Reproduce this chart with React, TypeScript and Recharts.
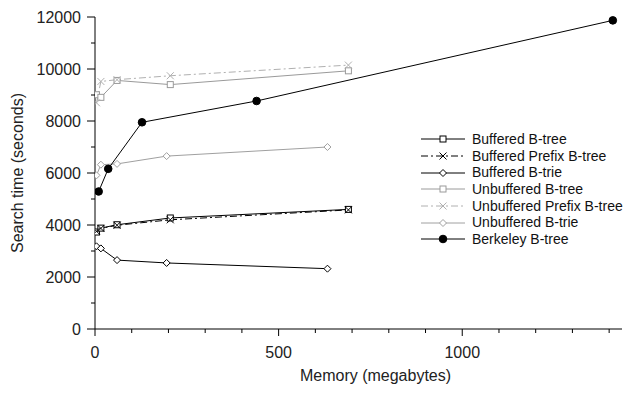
import React from 'react';
import { LineChart, Line, XAxis, YAxis, Legend } from 'recharts';

const FONT = '"Liberation Sans", Arial, Helvetica, sans-serif';

const bufferedBtreeMem = [4, 16, 60, 205, 690];
const bufferedBtreeTime = [3730, 3880, 4010, 4270, 4600];
const bufferedPrefixMem = [4, 16, 60, 205, 690];
const bufferedPrefixTime = [3760, 3870, 3990, 4200, 4580];
const bufferedTrieMem = [4, 16, 60, 195, 633];
const bufferedTrieTime = [3180, 3100, 2650, 2540, 2320];
const unbufferedBtreeMem = [4, 16, 60, 205, 690];
const unbufferedBtreeTime = [9010, 8910, 9560, 9400, 9930];
const unbufferedPrefixMem = [4, 16, 60, 205, 690];
const unbufferedPrefixTime = [8700, 9520, 9590, 9740, 10150];
const unbufferedTrieMem = [4, 16, 60, 195, 633];
const unbufferedTrieTime = [5910, 6320, 6350, 6650, 7000];
const berkeleyMem = [10, 36, 128, 440, 1410];
const berkeleyTime = [5290, 6160, 7950, 8770, 11870];

const xTicks = [0, 100, 200, 300, 400, 500, 600, 700, 800, 900, 1000, 1100, 1200, 1300, 1400];
const yTicks = [0, 1000, 2000, 3000, 4000, 5000, 6000, 7000, 8000, 9000, 10000, 11000, 12000];

const zip = (xs: number[], ys: number[]) => xs.map((x, i) => ({ x, y: ys[i] }));

type Kind = 'square' | 'cross' | 'diamond' | 'circle';
interface Series {
  name: string;
  data: { x: number; y: number }[];
  color: string;
  dash?: string;
  marker: Kind;
}

const series: Series[] = [
  { name: 'Buffered B-tree', data: zip(bufferedBtreeMem, bufferedBtreeTime), color: '#000', marker: 'square' },
  { name: 'Buffered Prefix B-tree', data: zip(bufferedPrefixMem, bufferedPrefixTime), color: '#000', dash: '7 3 2 3', marker: 'cross' },
  { name: 'Buffered B-trie', data: zip(bufferedTrieMem, bufferedTrieTime), color: '#000', marker: 'diamond' },
  { name: 'Unbuffered B-tree', data: zip(unbufferedBtreeMem, unbufferedBtreeTime), color: '#9a9a9a', marker: 'square' },
  { name: 'Unbuffered Prefix B-tree', data: zip(unbufferedPrefixMem, unbufferedPrefixTime), color: '#b0b0b0', dash: '7 3 2 3', marker: 'cross' },
  { name: 'Unbuffered B-trie', data: zip(unbufferedTrieMem, unbufferedTrieTime), color: '#a0a0a0', marker: 'diamond' },
  { name: 'Berkeley B-tree', data: zip(berkeleyMem, berkeleyTime), color: '#000', marker: 'circle' },
];

function Marker({ kind, cx, cy, color }: { kind: Kind; cx: number; cy: number; color: string }) {
  if (kind === 'square')
    return <rect x={cx - 3} y={cy - 3} width={6} height={6} fill="#fff" stroke={color} strokeWidth={1} />;
  if (kind === 'cross')
    return (
      <g stroke={color} strokeWidth={1}>
        <line x1={cx - 3.5} y1={cy - 3.5} x2={cx + 3.5} y2={cy + 3.5} />
        <line x1={cx - 3.5} y1={cy + 3.5} x2={cx + 3.5} y2={cy - 3.5} />
      </g>
    );
  if (kind === 'diamond')
    return (
      <polygon
        points={`${cx},${cy - 3.5} ${cx + 3.5},${cy} ${cx},${cy + 3.5} ${cx - 3.5},${cy}`}
        fill="#fff"
        stroke={color}
        strokeWidth={1}
      />
    );
  return <circle cx={cx} cy={cy} r={3.8} fill={color} stroke={color} />;
}

const XTick = (props: any) => {
  const { x, y, payload } = props;
  const major = payload.value % 500 === 0;
  return (
    <g>
      <line x1={x} y1={y} x2={x} y2={y + (major ? 7 : 4)} stroke="#000" />
      {major && (
        <text x={x} y={y + 29} textAnchor="middle" fontSize={16} fill="#222" fontFamily={FONT}>
          {payload.value}
        </text>
      )}
    </g>
  );
};

const YTick = (props: any) => {
  const { x, y, payload } = props;
  const major = payload.value % 2000 === 0;
  return (
    <g>
      <line x1={x} y1={y} x2={x - (major ? 8 : 4)} y2={y} stroke="#000" />
      {major && (
        <text x={x - 14} y={y + 5.6} textAnchor="end" fontSize={16} fill="#222" fontFamily={FONT}>
          {payload.value}
        </text>
      )}
    </g>
  );
};

const LegendContent = () => (
  <div style={{ fontFamily: FONT, fontSize: 14, color: '#111' }}>
    {series.map((s) => (
      <div key={s.name} style={{ display: 'flex', alignItems: 'center', height: 16.7 }}>
        <svg width={44} height={12} style={{ display: 'block' }}>
          <line x1={0} y1={6} x2={44} y2={6} stroke={s.color} strokeDasharray={s.dash} />
          <Marker kind={s.marker} cx={22} cy={6} color={s.color} />
        </svg>
        <span style={{ marginLeft: 7, whiteSpace: 'nowrap', lineHeight: '16.7px' }}>{s.name}</span>
      </div>
    ))}
  </div>
);

export default function App() {
  return (
    <div style={{ position: 'absolute', left: 0, top: 0, width: 624, height: 394, background: '#fff' }}>
      <LineChart width={624} height={394} margin={{ top: 17, right: 2, bottom: 0, left: 0 }}>
        <XAxis
          type="number"
          dataKey="x"
          domain={[0, 1435]}
          ticks={xTicks}
          interval={0}
          height={65}
          tickSize={0}
          tickMargin={0}
          tickLine={false}
          tick={<XTick />}
          axisLine={{ stroke: '#000' }}
          allowDataOverflow
          label={{ value: 'Memory (megabytes)', position: 'center', dx: 17, dy: 14, fontSize: 16, fill: '#222', fontFamily: FONT }}
        />
        <YAxis
          type="number"
          domain={[0, 12000]}
          ticks={yTicks}
          interval={0}
          width={95}
          tickSize={0}
          tickMargin={0}
          tickLine={false}
          tick={<YTick />}
          axisLine={{ stroke: '#000' }}
          label={{ value: 'Search time (seconds)', position: 'center', angle: -90, dx: -30, fontSize: 16, fill: '#222', fontFamily: FONT }}
        />
        <Legend
          layout="vertical"
          align="center"
          verticalAlign="middle"
          content={<LegendContent />}
          wrapperStyle={{ left: 421, top: 131, width: 210, height: 'auto' }}
        />
        {series.map((s) => (
          <Line
            key={s.name}
            name={s.name}
            data={s.data}
            dataKey="y"
            type="linear"
            stroke={s.color}
            strokeWidth={1}
            strokeDasharray={s.dash}
            isAnimationActive={false}
            dot={(p: any) => (
              <g key={`${s.name}-${p.index}`}>
                <Marker kind={s.marker} cx={p.cx} cy={p.cy} color={s.color} />
              </g>
            )}
            activeDot={false}
          />
        ))}
      </LineChart>
    </div>
  );
}
